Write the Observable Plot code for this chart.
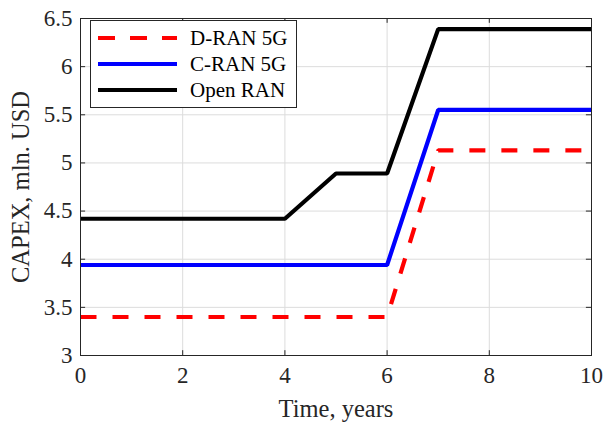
<!DOCTYPE html>
<html>
<head>
<meta charset="utf-8">
<script src="https://cdn.jsdelivr.net/npm/d3@7"></script>
<script src="https://cdn.jsdelivr.net/npm/@observablehq/plot@0.6"></script>
<style>
  html, body { margin: 0; padding: 0; background: #fff; }
  #chart { position: relative; width: 603px; height: 423px; font-family: "Liberation Serif", "Times New Roman", serif; }
  #legend { position: absolute; left: 90px; top: 20px; width: 207px; height: 88px; box-sizing: border-box;
            border: 1px solid #262626; background: #fff; }
  #legend svg { display: block; }
</style>
</head>
<body>
<div id="chart"></div>
<script>
// CAPEX over time for three RAN architectures
const years = [0, 1, 2, 3, 4, 5, 6, 7, 8, 9, 10];
const dRan5G = [3.40, 3.40, 3.40, 3.40, 3.40, 3.40, 3.40, 5.13, 5.13, 5.13, 5.13];
const cRan5G = [3.94, 3.94, 3.94, 3.94, 3.94, 3.94, 3.94, 5.55, 5.55, 5.55, 5.55];
const openRan = [4.42, 4.42, 4.42, 4.42, 4.42, 4.89, 4.89, 6.39, 6.39, 6.39, 6.39];

const seriesNames = ["D-RAN 5G", "C-RAN 5G", "Open RAN"];
const seriesColors = ["#ff0000", "#0000ff", "#000000"];
const seriesDash = ["16,16", null, null];

const xTicks = [0, 2, 4, 6, 8, 10];
const yTicks = [3, 3.5, 4, 4.5, 5, 5.5, 6, 6.5];

const rows = [];
[dRan5G, cRan5G, openRan].forEach((vals, i) => {
  vals.forEach((v, j) => rows.push({ series: seriesNames[i], year: years[j], capex: v }));
});

const serif = "'Liberation Serif', 'Times New Roman', serif";
const xDom = [0, 10], yDom = [3, 6.5];
const frameColor = "#262626";
const tickLenX = 0.1;   // inward tick length along x (data units)
const tickLenY = 0.05;  // inward tick length along y (data units)

const lineMarks = seriesNames.map((name, i) =>
  Plot.line(rows.filter(d => d.series === name), {
    x: "year", y: "capex",
    stroke: seriesColors[i], strokeWidth: 4.2,
    strokeDasharray: seriesDash[i] ?? undefined,
    strokeLinejoin: "miter", strokeLinecap: "butt"
  })
);

const plot = Plot.plot({
  width: 603,
  height: 423,
  marginLeft: 80,
  marginRight: 12,
  marginTop: 18,
  marginBottom: 68,
  style: { fontFamily: serif, background: "#fff", overflow: "visible" },
  x: { domain: xDom },
  y: { domain: yDom },
  marks: [
    // grid
    Plot.ruleX(xTicks, { stroke: "#dcdcdc", strokeWidth: 1 }),
    Plot.ruleY(yTicks, { stroke: "#dcdcdc", strokeWidth: 1 }),
    // data
    ...lineMarks,
    // inward ticks on all four sides
    Plot.ruleX(xTicks, { y1: yDom[0], y2: yDom[0] + tickLenY, stroke: frameColor }),
    Plot.ruleX(xTicks, { y1: yDom[1], y2: yDom[1] - tickLenY, stroke: frameColor }),
    Plot.ruleY(yTicks, { x1: xDom[0], x2: xDom[0] + tickLenX, stroke: frameColor }),
    Plot.ruleY(yTicks, { x1: xDom[1], x2: xDom[1] - tickLenX, stroke: frameColor }),
    Plot.frame({ stroke: frameColor, strokeWidth: 1 }),
    // axes
    Plot.axisX(xTicks, {
      anchor: "bottom", tickSize: 0, tickPadding: 11, fontSize: 23, fontFamily: serif,
      fontVariant: "normal", fill: "#262626",
      label: "Time, years", labelAnchor: "center", labelArrow: "none", labelOffset: 61
    }),
    Plot.axisY(yTicks, {
      anchor: "left", tickSize: 0, tickPadding: 8, fontSize: 23, fontFamily: serif,
      fontVariant: "normal", fill: "#262626",
      tickFormat: d => String(d),
      label: "CAPEX, mln. USD", labelAnchor: "center", labelArrow: "none", labelOffset: 69
    })
  ]
});

// Axis title font size
plot.querySelectorAll("[aria-label='x-axis label'], [aria-label='y-axis label']").forEach(g => {
  g.setAttribute("font-size", "24.5");
  g.querySelectorAll("text").forEach(t => t.setAttribute("font-size", "24.5"));
});

const chart = document.getElementById("chart");
chart.appendChild(plot);

// Legend box
const legend = document.createElement("div");
legend.id = "legend";
const lsvg = d3.create("svg").attr("width", 205).attr("height", 86);
seriesNames.forEach((name, i) => {
  const cy = 17 + i * 26;
  lsvg.append("line")
    .attr("x1", 7).attr("x2", 86).attr("y1", cy).attr("y2", cy)
    .attr("stroke", seriesColors[i]).attr("stroke-width", 4.2)
    .attr("stroke-dasharray", seriesDash[i] ? "17,15" : null);
  lsvg.append("text")
    .attr("x", 99).attr("y", cy).attr("dy", "0.35em")
    .attr("font-size", 21).attr("fill", "#000")
    .attr("font-family", serif)
    .text(name);
});
legend.appendChild(lsvg.node());
chart.appendChild(legend);
</script>
</body>
</html>
